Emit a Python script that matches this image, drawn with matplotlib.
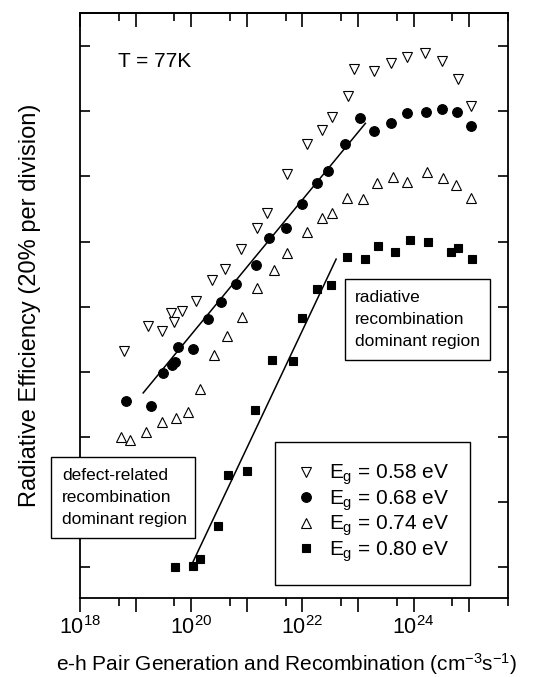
import matplotlib
matplotlib.use('Agg')
import matplotlib.pyplot as plt
from matplotlib.ticker import FixedLocator, FuncFormatter, NullFormatter
from matplotlib.patches import Rectangle

plt.rcParams['font.family'] = ['Liberation Sans', 'DejaVu Sans']
plt.rcParams['mathtext.fontset'] = 'custom'
plt.rcParams['mathtext.rm'] = 'Liberation Sans'
plt.rcParams['mathtext.it'] = 'Liberation Sans'
plt.rcParams['mathtext.bf'] = 'Liberation Sans:bold'

# ---- data: generation rate (cm^-3 s^-1) and radiative efficiency (%) ----
g_058 = [6.2e18, 1.66e19, 2.97e19, 4.3e19, 4.86e19, 6.8e19, 1.21e20, 2.34e20, 4.0e20,
         7.8e20, 1.5e21, 2.27e21, 5.4e21, 1.19e22, 2.3e22, 3.48e22, 6.7e22, 8.6e22,
         1.97e23, 3.98e23, 7.7e23, 1.62e24, 3.27e24, 6.35e24, 1.09e25]
eff_058 = [66.4, 74.0, 72.5, 78.0, 75.3, 78.6, 81.7, 88.2, 91.5, 97.7, 104.1, 108.7,
           120.7, 129.9, 134.2, 138.2, 144.7, 153.0, 152.4, 154.8, 156.7, 157.9, 155.4,
           149.9, 141.6]

g_068 = [6.7e18, 1.88e19, 3.09e19, 4.48e19, 5.07e19, 5.74e19, 1.07e20, 1.98e20, 3.4e20,
         6.3e20, 1.44e21, 2.47e21, 4.98e21, 1.0e22, 1.87e22, 2.95e22, 5.94e22, 1.11e23,
         1.97e23, 3.98e23, 7.7e23, 1.69e24, 3.27e24, 6.1e24, 1.09e25]
eff_068 = [51.0, 49.5, 59.6, 62.1, 63.0, 67.6, 67.0, 76.2, 81.4, 86.9, 92.8, 101.1,
           104.1, 111.5, 118.0, 121.7, 129.9, 137.9, 133.9, 136.4, 139.5, 139.8, 140.7,
           139.8, 135.5]

g_074 = [5.45e18, 7.9e18, 1.53e19, 2.97e19, 5.29e19, 8.7e19, 1.43e20, 2.54e20, 4.35e20,
         8.1e20, 1.5e21, 3.03e21, 5.4e21, 1.19e22, 2.21e22, 3.48e22, 6.46e22, 1.25e23,
         2.23e23, 4.33e23, 7.7e23, 1.76e24, 3.41e24, 5.85e24, 1.09e25]
eff_074 = [39.9, 39.0, 41.5, 44.5, 45.8, 47.6, 54.7, 65.1, 71.0, 76.8, 85.7, 91.2,
           96.5, 102.9, 107.2, 108.7, 113.4, 113.0, 118.0, 119.8, 118.3, 121.3, 119.5,
           117.4, 113.4]

g_080 = [5.07e19, 1.07e20, 1.43e20, 3.0e20, 4.53e20, 9.93e20, 1.38e21, 2.79e21, 6.65e21,
         1.0e22, 1.87e22, 3.33e22, 6.46e22, 1.36e23, 2.33e23, 4.7e23, 8.7e23, 1.84e24,
         4.75e24, 6.35e24, 1.13e25]
eff_080 = [0.0, 0.3, 2.5, 12.6, 28.3, 29.5, 48.2, 63.6, 63.3, 76.5, 85.4, 86.6, 95.2,
           94.6, 98.6, 96.8, 100.5, 99.8, 96.8, 98.0, 94.6]

# fitted straight lines (log-linear)
fit_068_g = [1.37e19, 1.36e23]
fit_068_eff = [53.5, 136.3]
fit_080_g = [9.8e19, 4.05e22]
fit_080_eff = [0.1, 94.6]

series_labels = ['$E_g$ = 0.58 eV', '$E_g$ = 0.68 eV', '$E_g$ = 0.74 eV', '$E_g$ = 0.80 eV']
x_tick_exponents = [18, 19, 20, 21, 22, 23, 24, 25]
x_labelled_exponents = [18, 20, 22, 24]
y_ticks = [0, 20, 40, 60, 80, 100, 120, 140, 160]

# ---- figure ----
fig = plt.figure(figsize=(5.35, 6.77), dpi=100)
ax = fig.add_axes([80 / 535, 1 - 598 / 677, 428 / 535, 585 / 677])
ax.set_xscale('log')
ax.set_xlim(1e18, 5e25)
ax.set_ylim(-9.5, 170.2)

mk = dict(linestyle='none', markeredgecolor='black', markeredgewidth=0.8)
h1, = ax.plot(g_058, eff_058, marker='v', markersize=7.5, markerfacecolor='white', **mk)
h2, = ax.plot(g_068, eff_068, marker='o', markersize=7.0, markerfacecolor='black', **mk)
h3, = ax.plot(g_074, eff_074, marker='^', markersize=7.5, markerfacecolor='white', **mk)
h4, = ax.plot(g_080, eff_080, marker='s', markersize=6.0, markerfacecolor='black', **mk)
ax.plot(fit_068_g, fit_068_eff, color='black', linewidth=1.1)
ax.plot(fit_080_g, fit_080_eff, color='black', linewidth=1.1)

# x ticks
ax.xaxis.set_major_locator(FixedLocator([10.0 ** e for e in x_tick_exponents]))
ax.xaxis.set_minor_locator(FixedLocator([5 * 10.0 ** e for e in x_tick_exponents]))
lab_vals = {10.0 ** e: e for e in x_labelled_exponents}


def fmt(v, pos):
    for k, e in lab_vals.items():
        if abs(v / k - 1) < 1e-6:
            return '$10^{%d}$' % e
    return ''


ax.xaxis.set_major_formatter(FuncFormatter(fmt))
ax.xaxis.set_minor_formatter(NullFormatter())
ax.tick_params(axis='x', which='major', direction='out', length=10, width=1.2,
               labelsize=15.5, pad=3)
ax.tick_params(axis='x', which='minor', direction='out', length=5.5, width=1.2)

# top ticks pointing inward
sec = ax.secondary_xaxis('top')
sec.xaxis.set_major_locator(FixedLocator([10.0 ** e for e in x_tick_exponents]))
sec.xaxis.set_minor_locator(FixedLocator([5 * 10.0 ** e for e in x_tick_exponents]))
sec.xaxis.set_major_formatter(NullFormatter())
sec.xaxis.set_minor_formatter(NullFormatter())
sec.tick_params(axis='x', which='major', direction='in', length=10, width=1.2)
sec.tick_params(axis='x', which='minor', direction='in', length=5.5, width=1.2)
for s in sec.spines.values():
    s.set_linewidth(1.3)

ax.set_yticks(y_ticks)
ax.tick_params(axis='y', direction='in', length=7, width=1.2, left=True, right=True,
               labelleft=False)
for s in ax.spines.values():
    s.set_linewidth(1.3)

ax.set_xlabel('e-h Pair Generation and Recombination (cm$^{-3}$s$^{-1}$)', fontsize=15)
ax.xaxis.set_label_coords(0.482, -0.09)
ax.set_ylabel('Radiative Efficiency (20% per division)', fontsize=17)
ax.yaxis.set_label_coords(-0.09, 0.5)

ax.text(0.0888, 0.9077, 'T = 77K', transform=ax.transAxes, fontsize=15,
        ha='left', va='baseline')

# annotation boxes
ax.add_patch(Rectangle((0.619, 0.407), 0.958 - 0.619, 0.545 - 0.407, transform=ax.transAxes,
                       facecolor='white', edgecolor='black', linewidth=1.0, zorder=4))
ax.text(0.6425, 0.476, 'radiative\nrecombination\ndominant region', transform=ax.transAxes,
        fontsize=12.5, ha='left', va='center', linespacing=1.55, zorder=5)

fig.add_artist(Rectangle((-0.0678, 0.1026), 0.2687 + 0.0678, 0.241 - 0.1026,
                         transform=ax.transAxes, facecolor='white', edgecolor='black',
                         linewidth=1.0, zorder=10))
fig.text(-0.042, 0.1718, 'defect-related\nrecombination\ndominant region',
         transform=ax.transAxes, fontsize=12.5, ha='left', va='center', linespacing=1.55,
         zorder=11)

leg = ax.legend([h1, h2, h3, h4], series_labels, loc='upper left',
                bbox_to_anchor=(0.4556, 0.2667), fontsize=15, frameon=True, fancybox=False,
                edgecolor='black', framealpha=1, borderpad=1.0, handlelength=1.0,
                handletextpad=0.6, labelspacing=0.05, borderaxespad=0)
leg.get_frame().set_linewidth(1.0)

fig.savefig('out.png', dpi=100)
